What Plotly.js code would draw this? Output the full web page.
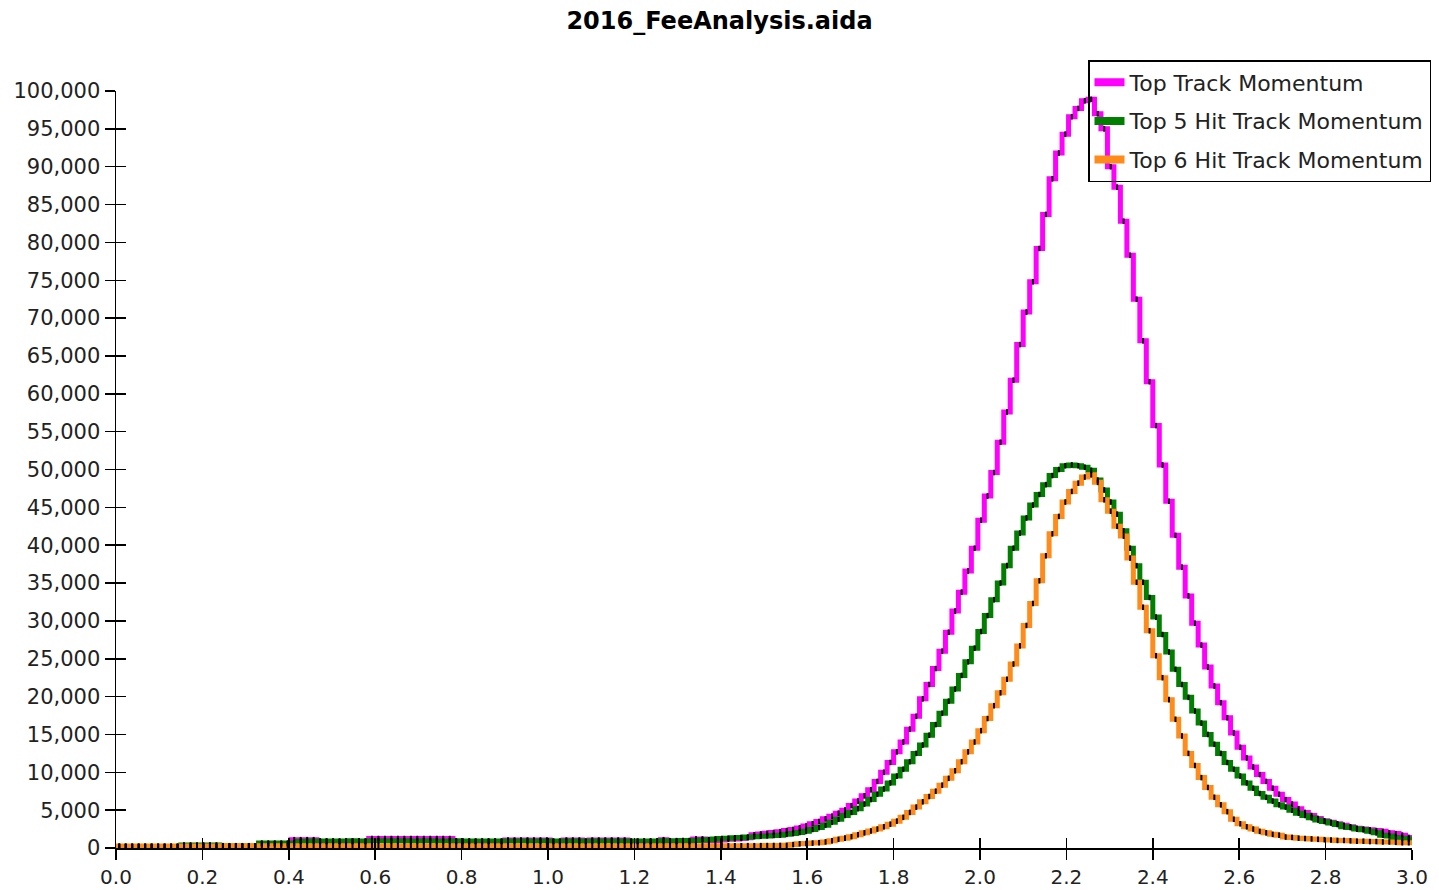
<!DOCTYPE html>
<html>
<head>
<meta charset="utf-8">
<script src="https://cdn.plot.ly/plotly-3.0.1.min.js"></script>
<style>
  html, body { margin: 0; padding: 0; background: #ffffff; }
  #chart { width: 1439px; height: 890px; }
</style>
</head>
<body>
<div id="chart"></div>
<script>
// Histogram binning (200 bins from 0.0 to 3.0)
const binLow = 0.0;
const binHigh = 3.0;
const nBins = 200;

const seriesNames = ["Top Track Momentum", "Top 5 Hit Track Momentum", "Top 6 Hit Track Momentum"];

// Top Track Momentum (entries per bin)
const topTrack = [
  150,150,150,150,150,150,150,150,150,150,
  200,200,200,200,200,200,200,200,200,200,
  200,200,550,550,550,550,550,1100,1100,1100,
  1100,850,850,850,850,850,850,850,850,1250,
  1250,1250,1250,1250,1250,1250,1250,1250,1250,1250,
  1250,1250,850,850,850,850,850,850,850,850,
  1050,1050,1050,1050,1050,1050,1050,850,850,1050,
  1050,1050,850,1050,1050,1050,1050,1050,1050,850,
  850,850,850,850,1100,850,850,850,850,1200,
  1200,950,1000,1050,1150,1200,1250,1350,1750,1850,
  1950,2050,2150,2300,2450,2650,2900,3200,3500,3850,
  4200,4600,5000,5600,6200,6900,7700,8800,10000,11300,
  12700,14000,15700,17400,19700,21600,23700,26000,28500,31300,
  33800,36600,39600,43300,46500,49600,53600,57600,61800,66500,
  70800,74800,79200,83700,88400,91800,94300,96600,97700,98700,
  98900,97000,95000,90000,87300,82800,78300,72500,67000,61600,
  55800,50600,45800,41300,37100,33300,29700,26800,23900,21400,
  19200,17200,15200,13300,11900,10700,9700,8800,7900,7100,
  6400,5800,5200,4700,4300,3900,3600,3400,3200,3000,
  2800,2600,2500,2400,2300,2200,2000,1900,1700,1400
];

// Top 5 Hit Track Momentum
const top5Hit = [
  200,200,200,200,200,200,200,200,200,200,
  400,400,400,400,400,400,250,250,250,250,
  250,250,650,650,650,650,650,650,900,900,
  920,930,940,930,920,930,950,940,930,950,
  960,950,940,960,950,940,930,950,960,940,
  930,940,950,940,930,920,930,940,930,920,
  910,920,930,910,900,920,930,920,910,900,
  910,900,920,910,900,910,920,900,910,920,
  930,930,940,940,950,960,970,980,990,1000,
  1050,1100,1200,1250,1300,1350,1400,1450,1500,1550,
  1600,1650,1700,1800,1900,2050,2200,2450,2700,3000,
  3400,3800,4300,4700,5200,5800,6400,7100,7800,8600,
  9500,10400,11400,12500,13600,14900,16300,17800,19400,21000,
  22800,24600,26400,28600,30700,32800,35000,37300,39600,41600,
  43600,45300,46700,48000,49200,50000,50500,50600,50500,50300,
  49900,48600,47300,45700,44100,41900,39600,37300,35100,33100,
  30500,28200,25900,23600,21600,19900,18100,16500,15000,13700,
  12500,11300,10400,9500,8600,7900,7200,6700,6200,5700,
  5400,5000,4600,4300,4000,3700,3500,3300,3100,2800,
  2700,2500,2400,2200,2000,1700,1600,1400,1300,1200
];

// Top 6 Hit Track Momentum
const top6Hit = [
  250,250,250,250,250,250,250,250,250,250,
  250,250,250,250,250,250,300,300,300,300,
  300,290,300,310,300,290,300,300,310,300,
  300,290,300,300,310,300,290,300,300,300,
  310,300,300,290,300,300,310,300,300,290,
  300,300,300,310,300,290,300,300,300,310,
  300,300,290,300,300,310,300,300,290,300,
  300,310,300,300,290,300,300,300,310,300,
  300,290,300,300,310,300,300,290,300,300,
  300,310,300,300,290,300,300,310,300,310,
  320,330,340,350,450,550,600,650,700,800,
  950,1150,1300,1500,1750,2000,2250,2500,2800,3150,
  3550,4050,4700,5400,6100,6800,7500,8300,9200,10200,
  11400,12700,14000,15500,17100,18800,20500,22300,24300,26700,
  29400,32300,35300,38600,41500,43800,45700,47100,48200,49000,
  49300,48300,46000,44500,42500,41200,38300,35100,31800,28700,
  25400,22500,19600,17000,14800,12500,10900,9300,8000,6700,
  5700,4800,3800,3200,2800,2500,2200,2000,1800,1700,
  1450,1400,1300,1250,1200,1150,1100,1050,1000,1000,
  950,900,900,850,850,800,800,750,700,700
];

const seriesColors = ["#ff00ff", "#007f00", "#ff8c1a"];

const binWidth = (binHigh - binLow) / nBins;
const edges = [];
for (let i = 0; i <= nBins; i++) edges.push(binLow + i * binWidth);
const centers = [];
for (let i = 0; i < nBins; i++) centers.push(binLow + (i + 0.5) * binWidth);

function stepTrace(vals, idx) {
  return {
    type: "scatter", mode: "lines",
    x: edges, y: vals.concat([vals[vals.length - 1]]),
    line: { shape: "hv", color: seriesColors[idx], width: 5 },
    showlegend: false, hoverinfo: "x+y", name: seriesNames[idx]
  };
}
function legendTrace(idx) {
  return {
    type: "scatter", mode: "lines", x: [null], y: [null],
    line: { color: seriesColors[idx], width: 8 },
    name: seriesNames[idx], legendgroup: "g" + idx, showlegend: true
  };
}
function tickTrace(vals) {
  const xs = [], ys = [];
  vals.forEach((v, i) => { if (v > 0) { xs.push(centers[i]); ys.push(v); } });
  return {
    type: "scatter", mode: "markers", x: xs, y: ys, xaxis: "x2", yaxis: "y2",
    marker: { symbol: "line-ns", size: 4, color: "#000", line: { color: "#000", width: 2 } },
    showlegend: false, hoverinfo: "skip"
  };
}

const allSeries = [topTrack, top5Hit, top6Hit];
const traces = [];
allSeries.forEach((s, i) => traces.push(stepTrace(s, i)));
allSeries.forEach((s) => traces.push(tickTrace(s)));
allSeries.forEach((s, i) => traces.push(legendTrace(i)));

const fontFam = "DejaVu Sans, Arial, sans-serif";
const tickFont = { family: fontFam, size: 21, color: "#222" };

const layout = {
  width: 1439, height: 890,
  paper_bgcolor: "#ffffff", plot_bgcolor: "#ffffff",
  margin: { l: 116, r: 27, t: 91, b: 42, pad: 0, autoexpand: false },
  title: {
    text: "<b>2016_FeeAnalysis.aida</b>",
    font: { family: fontFam, size: 24, color: "#000" },
    x: 0.5, xref: "container", xanchor: "center",
    y: 1 - 21 / 890, yref: "container", yanchor: "middle"
  },
  xaxis: {
    range: [binLow, binHigh], tick0: 0, dtick: 0.2, tickformat: ".1f",
    showgrid: false, zeroline: false, showline: true, linecolor: "#000", linewidth: 1.5,
    ticks: "outside", ticklen: 10, tickwidth: 1.5, tickcolor: "#000",
    tickfont: { family: fontFam, size: 20, color: "#222" }, fixedrange: true
  },
  yaxis: {
    range: [0, 100000], tick0: 0, dtick: 5000, tickformat: ",d",
    showgrid: false, zeroline: false, showline: true, linecolor: "#000", linewidth: 1.5,
    ticks: "outside", ticklen: 10, tickwidth: 1.5, tickcolor: "#000",
    tickfont: tickFont, fixedrange: true
  },
  xaxis2: {
    overlaying: "x", anchor: "y2", side: "bottom",
    range: [binLow, binHigh], tick0: 0, dtick: 0.2,
    showgrid: false, zeroline: false, showline: false, showticklabels: false,
    ticks: "inside", ticklen: 10, tickwidth: 1.5, tickcolor: "#000", fixedrange: true
  },
  yaxis2: {
    overlaying: "y", anchor: "x2", side: "left",
    range: [0, 100000], tick0: 0, dtick: 5000,
    showgrid: false, zeroline: false, showline: false, showticklabels: false,
    ticks: "inside", ticklen: 10, tickwidth: 1.5, tickcolor: "#000", fixedrange: true
  },
  showlegend: true,
  legend: {
    x: 1088 / 1439, xanchor: "left", xref: "container",
    y: 1 - 60 / 890, yanchor: "top", yref: "container",
    bgcolor: "rgba(255,255,255,0)", bordercolor: "#000", borderwidth: 1.5,
    font: { family: fontFam, size: 22, color: "#222" },
    traceorder: "grouped", tracegroupgap: 7, itemwidth: 30
  }
};

Plotly.newPlot("chart", traces, layout, { displayModeBar: false, responsive: false, staticPlot: true });
</script>
</body>
</html>
